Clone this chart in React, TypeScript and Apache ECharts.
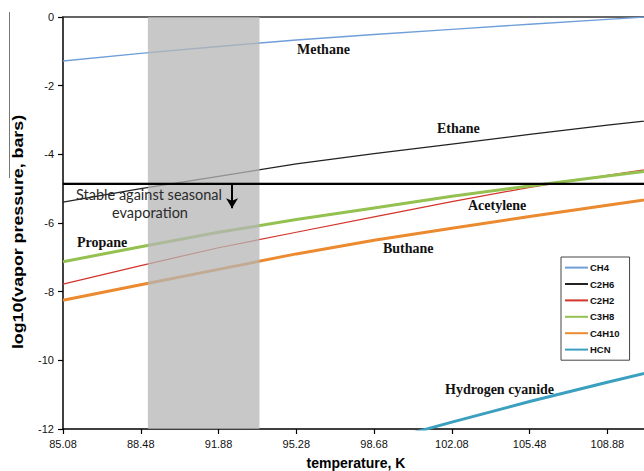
import React, { useEffect, useRef } from "react";
import * as echarts from "echarts";

// Temperatures (K) at which the vapour-pressure curves are sampled
const temperatures = [85.08, 88.48, 91.88, 95.28, 98.68, 102.08, 105.48, 108.88, 112.28];
// log10 of vapour pressure (bars)
const ch4 = [-1.28, -1.06, -0.86, -0.67, -0.51, -0.36, -0.21, -0.07, 0.07];
const c2h6 = [-5.39, -5.0, -4.64, -4.28, -3.98, -3.7, -3.42, -3.15, -2.9];
const c2h2 = [-7.78, -7.24, -6.72, -6.27, -5.82, -5.38, -4.96, -4.61, -4.28];
const c3h8 = [-7.13, -6.69, -6.27, -5.9, -5.56, -5.22, -4.92, -4.63, -4.35];
const c4h10 = [-8.25, -7.8, -7.35, -6.9, -6.5, -6.15, -5.81, -5.48, -5.16];
const hcnTemperatures = [98.68, 102.08, 105.48, 108.88, 112.28];
const hcn = [-12.42, -11.8, -11.2, -10.64, -10.1];

// Axis ticks
const xTicks = [85.08, 88.48, 91.88, 95.28, 98.68, 102.08, 105.48, 108.88];
const xRange = [85.08, 110.48];
const yRange = [-12, 0];
const yStep = 2;

// Surface temperature range (shaded) and stability threshold
const seasonalRange = [88.79, 93.67];
const stabilityThreshold = -4.85;
const arrowTemperature = 92.47;
const arrowEnd = -5.57;

const seriesDefs = [
  { name: "CH4", x: temperatures, y: ch4, color: "#6f9fd8", width: 1.4 },
  { name: "C2H6", x: temperatures, y: c2h6, color: "#222222", width: 1.2 },
  { name: "C2H2", x: temperatures, y: c2h2, color: "#d3342b", width: 1.2 },
  { name: "C3H8", x: temperatures, y: c3h8, color: "#94c150", width: 3 },
  { name: "C4H10", x: temperatures, y: c4h10, color: "#eb8a2f", width: 3 },
  { name: "HCN", x: hcnTemperatures, y: hcn, color: "#3b9fbf", width: 3 },
];

const serif = "'Liberation Serif', 'Times New Roman', serif";
const sans = "'Liberation Sans', Arial, sans-serif";

const curveLabels = [
  { text: "Methane", x: 297, y: 49 },
  { text: "Ethane", x: 437, y: 128 },
  { text: "Acetylene", x: 468, y: 205 },
  { text: "Propane", x: 77, y: 242 },
  { text: "Buthane", x: 383, y: 248 },
  { text: "Hydrogen cyanide", x: 445, y: 389 },
];

export default function App() {
  const ref = useRef<HTMLDivElement>(null);

  useEffect(() => {
    if (!ref.current) return;
    const chart = echarts.init(ref.current, undefined, { renderer: "svg" });

    const lineSeries = seriesDefs.map((s) => ({
      name: s.name,
      type: "line",
      data: s.x.map((t, i) => [t, s.y[i]]),
      symbol: "none",
      showSymbol: false,
      clip: true,
      z: 2,
      lineStyle: { color: s.color, width: s.width },
      itemStyle: { color: s.color },
    }));

    const graphics: any[] = curveLabels.map((l) => ({
      type: "text",
      x: l.x,
      y: l.y,
      silent: true,
      style: {
        text: l.text,
        fontFamily: serif,
        fontWeight: "bold",
        fontSize: 14,
        fill: "#111",
        align: "left",
        verticalAlign: "middle",
      },
    }));

    const noteStyle = {
      fontFamily: "Lato, 'Noto Sans', sans-serif",
      fontSize: 14.5,
      fill: "#2a2a2a",
      align: "center",
      verticalAlign: "middle",
    };

    graphics.push(
      { type: "text", x: 149, y: 194, z: 10, silent: true, style: { ...noteStyle, text: "Stable against seasonal" } },
      { type: "text", x: 150, y: 212, z: 10, silent: true, style: { ...noteStyle, text: "evaporation" } },
      {
        type: "text",
        x: 18,
        y: 232,
        rotation: Math.PI / 2,
        scaleX: 1.27,
        silent: true,
        style: {
          text: "log10(vapor pressure, bars)",
          fontFamily: sans,
          fontWeight: "bold",
          fontSize: 14,
          fill: "#000",
          align: "center",
          verticalAlign: "middle",
        },
      },
      {
        type: "text",
        x: 356,
        y: 463,
        silent: true,
        style: {
          text: "temperature, K",
          fontFamily: sans,
          fontWeight: "bold",
          fontSize: 14,
          fill: "#000",
          align: "center",
          verticalAlign: "middle",
        },
      },
      {
        type: "line",
        silent: true,
        shape: { x1: 9.5, y1: 12, x2: 9.5, y2: 178 },
        style: { stroke: "#777", lineWidth: 1 },
      }
    );

    chart.setOption({
      animation: false,
      backgroundColor: "#fff",
      grid: { left: 63, top: 17, right: 0, bottom: 42 },
      legend: {
        orient: "vertical",
        left: 561,
        top: 257,
        data: seriesDefs.map((s) => s.name),
        icon: "rect",
        itemWidth: 23,
        itemHeight: 2,
        itemGap: 5.2,
        padding: [5, 10, 5, 4],
        borderColor: "#444",
        borderWidth: 1,
        borderRadius: 0,
        backgroundColor: "#fff",
        selectedMode: false,
        textStyle: {
          fontFamily: sans,
          fontSize: 9.5,
          fontWeight: "bold",
          color: "#111",
          padding: [0, 0, 0, -3],
          lineHeight: 11.2,
        },
      },
      xAxis: [
        {
          type: "value",
          min: xRange[0],
          max: xRange[1],
          position: "bottom",
          axisLine: { show: true, onZero: false, lineStyle: { color: "#000", width: 1.5 } },
          axisTick: { show: true, length: 5, customValues: xTicks, lineStyle: { color: "#000", width: 1.2 } },
          axisLabel: {
            customValues: xTicks,
            formatter: (v: number) => v.toFixed(2),
            fontFamily: sans,
            fontSize: 11,
            color: "#111",
            margin: 9,
          },
          splitLine: { show: false },
        },
        {
          type: "value",
          min: xRange[0],
          max: xRange[1],
          position: "top",
          axisLine: { show: true, onZero: false, lineStyle: { color: "#333", width: 1.5 } },
          axisTick: { show: false },
          axisLabel: { show: false },
          splitLine: { show: false },
        },
      ],
      yAxis: {
        type: "value",
        min: yRange[0],
        max: yRange[1],
        interval: yStep,
        axisLine: { show: true, onZero: false, lineStyle: { color: "#000", width: 1.5 } },
        axisTick: { show: true, length: 5, lineStyle: { color: "#000", width: 1.2 } },
        axisLabel: { fontFamily: sans, fontSize: 11, color: "#111", margin: 9 },
        splitLine: { show: false },
      },
      series: [
        ...lineSeries,
        {
          name: "seasonal-range",
          type: "line",
          data: [],
          z: 3,
          silent: true,
          markArea: {
            silent: true,
            z: 6,
            itemStyle: { color: "rgba(182,182,182,0.75)" },
            data: [[{ xAxis: seasonalRange[0] }, { xAxis: seasonalRange[1] }]],
          },
        },
        {
          name: "stability",
          type: "line",
          data: [],
          z: 8,
          silent: true,
          markLine: {
            silent: true,
            z: 8,
            symbol: ["none", "none"],
            label: { show: false },
            data: [
              [
                {
                  coord: [xRange[0], stabilityThreshold],
                  lineStyle: { color: "rgba(0,0,0,0.28)", width: 3, type: "solid" },
                },
                { coord: [xRange[1], stabilityThreshold] },
              ],
              [
                {
                  coord: [xRange[0], stabilityThreshold],
                  lineStyle: { color: "#000", width: 2, type: "solid" },
                },
                { coord: [xRange[1], stabilityThreshold] },
              ],
              [
                {
                  coord: [arrowTemperature, stabilityThreshold - 0.02],
                  lineStyle: { color: "#000", width: 2, type: "solid" },
                },
                { coord: [arrowTemperature, arrowEnd], symbol: "arrow", symbolSize: [9, 10] },
              ],
            ],
          },
        },
      ],
      graphic: graphics,
    });

    return () => chart.dispose();
  }, []);

  return (
    <div
      ref={ref}
      style={{ position: "fixed", left: 0, top: 0, width: 644, height: 471, background: "#fff" }}
    />
  );
}
